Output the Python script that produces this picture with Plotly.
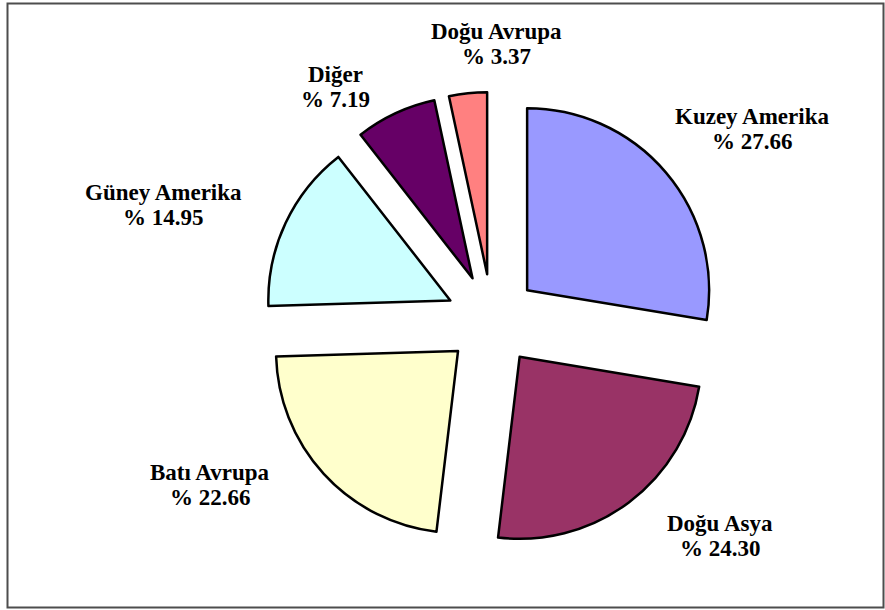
import plotly.graph_objects as go

# Regional shares (%)
regions = ["Kuzey Amerika", "Doğu Asya", "Batı Avrupa", "Güney Amerika", "Diğer", "Doğu Avrupa"]
shares = [27.66, 24.30, 22.66, 14.95, 7.19, 3.37]
colors = ["#9999FF", "#993366", "#FFFFCC", "#CCFFFF", "#660066", "#FF8080"]

# Label block centres, in pixels from the top-left of the figure
label_px = [(752, 129), (720, 536), (210, 485), (163, 205), (335, 87), (497, 44)]

W, H = 885, 610
CX, CY = 492, 320      # pie centre (px)
R = 182                # slice radius (px)
PULL = 0.253           # explode distance as a fraction of the radius
LINE_GAP = 25          # distance between the two label lines (px)

# Plotly sizes the pie as min(w, h) / (2 + 2 * pull); derive the domain box from that
half = R * (1 + PULL)
dom_x = [(CX - half) / W, (CX + half) / W]
dom_y = [1 - (CY + half) / H, 1 - (CY - half) / H]

fig = go.Figure(
    go.Pie(
        labels=regions,
        values=shares,
        sort=False,
        direction="clockwise",
        rotation=0,
        pull=[PULL] * len(shares),
        textinfo="none",
        hoverinfo="label+value",
        marker=dict(colors=colors, line=dict(color="black", width=2.5)),
        domain=dict(x=dom_x, y=dom_y),
        showlegend=False,
    )
)

label_font = dict(family="Liberation Serif", size=23, color="black")
for name, val, (px, py) in zip(regions, shares, label_px):
    for text, dy in ((f"<b>{name}</b>", -LINE_GAP / 2), (f"<b>% {val:.2f}</b>", LINE_GAP / 2)):
        fig.add_annotation(
            x=px / W, y=1 - (py + dy) / H, xref="paper", yref="paper",
            text=text, showarrow=False, xanchor="center", yanchor="middle",
            font=label_font,
        )

# Chart border
fig.add_shape(
    type="rect", xref="paper", yref="paper",
    x0=7.5 / W, x1=883.5 / W, y0=1 - 607.5 / H, y1=1 - 3.5 / H,
    line=dict(color="#4d4d4d", width=2), fillcolor="rgba(0,0,0,0)",
)

fig.update_layout(
    width=W, height=H,
    margin=dict(l=0, r=0, t=0, b=0),
    paper_bgcolor="white",
    plot_bgcolor="white",
)

fig.write_html("out.html")
